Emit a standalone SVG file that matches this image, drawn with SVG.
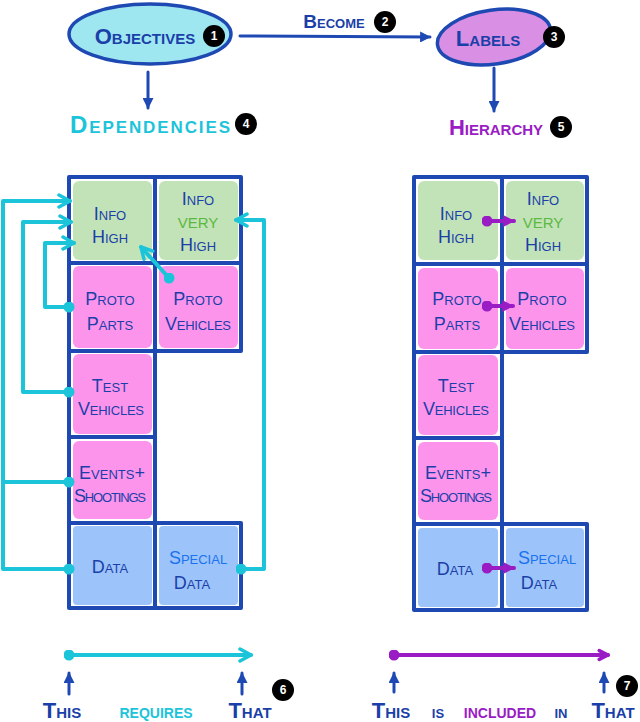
<svg xmlns="http://www.w3.org/2000/svg" width="640" height="722" viewBox="0 0 640 722">
<style>
.t{font-family:"Liberation Sans",Arial,sans-serif;font-variant:small-caps;fill:#1b3fa8;text-anchor:middle;font-weight:bold}
.c{font-size:18px;font-weight:normal}
.v{fill:#5cb83f;font-size:22px}
.g{fill:#c2e3b8}.p{fill:#fd94ec}.b{fill:#9cc4fa}
.bd{fill:none;stroke:#1e49b3;stroke-width:4;stroke-linecap:round;stroke-linejoin:round}
.cy{fill:none;stroke:#1cc4da;stroke-width:4;stroke-linecap:round;stroke-linejoin:round}
.pu{fill:none;stroke:#9a1cc4;stroke-width:4;stroke-linecap:round}
.bl{fill:none;stroke:#1e49b3;stroke-width:3;stroke-linecap:round}
.badge circle{fill:#000}
.badge text{font-family:"Liberation Sans",Arial,sans-serif;font-size:12px;font-weight:bold;fill:#fff;text-anchor:middle}
</style>
<defs>
<marker id="ac" viewBox="0 0 16 16" refX="14" refY="8" markerWidth="16" markerHeight="16" orient="auto" markerUnits="userSpaceOnUse"><path d="M3,2 L14,8 L3,14" fill="none" stroke="#1cc4da" stroke-width="3.5" stroke-linecap="round" stroke-linejoin="round"/></marker>
<marker id="apc" viewBox="0 0 16 16" refX="14" refY="8" markerWidth="14" markerHeight="14" orient="auto" markerUnits="userSpaceOnUse"><path d="M4,3 L14,8 L4,13" fill="none" stroke="#9a1cc4" stroke-width="4" stroke-linecap="round" stroke-linejoin="round"/></marker>
<marker id="ap" viewBox="0 0 10 10" refX="9" refY="5" markerWidth="12" markerHeight="12" orient="auto" markerUnits="userSpaceOnUse"><path d="M0,0 L10,5 L0,10 z" fill="#9a1cc4"/></marker>
<marker id="ab" viewBox="0 0 10 10" refX="9" refY="5" markerWidth="11" markerHeight="11" orient="auto" markerUnits="userSpaceOnUse"><path d="M0,0 L10,5 L0,10 z" fill="#1e49b3"/></marker>
<marker id="dc" viewBox="0 0 10 10" refX="5" refY="5" markerWidth="11" markerHeight="11" markerUnits="userSpaceOnUse"><circle cx="5" cy="5" r="5" fill="#1cc4da"/></marker>
<marker id="dp" viewBox="0 0 10 10" refX="5" refY="5" markerWidth="11" markerHeight="11" markerUnits="userSpaceOnUse"><circle cx="5" cy="5" r="5" fill="#9a1cc4"/></marker>
</defs>
<rect width="640" height="722" fill="#fff"/>

<g id="objectives">
<ellipse cx="150" cy="34" rx="81" ry="30" fill="#9ee6f0" stroke="#1e49b3" stroke-width="3.5"/>
<text class="t" x="145" y="44" font-size="22">Objectives</text>
</g>
<g id="labels">
<ellipse cx="494" cy="37" rx="57" ry="27" fill="#d98fe3" stroke="#1e49b3" stroke-width="3.5" transform="rotate(-8 494 37)"/>
<text class="t" x="488" y="46" font-size="22">Labels</text>
</g>
<g id="dependencies"><text class="t" x="150" y="133" font-size="24" textLength="160" style="fill:#1cc4da">Dependencies</text></g>
<g id="hierarchy"><text class="t" x="496" y="135" font-size="22" style="fill:#9a1cc4">Hierarchy</text></g>

<g id="top-connectors">
<line class="bl" x1="240" y1="36" x2="430" y2="37" marker-end="url(#ab)"/>
<text class="t" x="334" y="28" font-size="19">Become</text>
<line class="bl" x1="148" y1="72" x2="148" y2="108" marker-end="url(#ab)"/>
<line class="bl" x1="494" y1="68" x2="494" y2="111" marker-end="url(#ab)"/>
</g>

<g class="badge">
<circle cx="214" cy="36" r="11"/><text x="214" y="40">1</text>
<circle cx="385" cy="22" r="11"/><text x="385" y="26">2</text>
<circle cx="554" cy="37" r="11"/><text x="554" y="41">3</text>
<circle cx="246" cy="124" r="11"/><text x="246" y="128">4</text>
<circle cx="561" cy="127" r="11"/><text x="561" y="131">5</text>
<circle cx="283" cy="690" r="11"/><text x="283" y="694">6</text>
<circle cx="627" cy="686" r="11"/><text x="627" y="690">7</text>
</g>

<!-- Left grid -->
<g id="L-info-high"><rect class="g" x="73" y="181" width="79" height="79" rx="6"/><text class="t c" x="110" y="220">Info</text><text class="t c" x="110" y="243">High</text></g>
<g id="L-info-very-high"><rect class="g" x="159" y="181" width="79" height="79" rx="6"/><text class="t c" x="198" y="205">Info</text><text class="t c v" x="198" y="228">very</text><text class="t c" x="198" y="251">High</text></g>
<g id="L-proto-parts"><rect class="p" x="73" y="266" width="79" height="82" rx="6"/><text class="t c" x="110" y="305">Proto</text><text class="t c" x="110" y="330">Parts</text></g>
<g id="L-proto-vehicles"><rect class="p" x="159" y="266" width="79" height="82" rx="6"/><text class="t c" x="198" y="305">Proto</text><text class="t c" x="198" y="330" textLength="66">Vehicles</text></g>
<g id="L-test-vehicles"><rect class="p" x="73" y="354" width="79" height="80" rx="6"/><text class="t c" x="110" y="392">Test</text><text class="t c" x="111" y="415" textLength="66">Vehicles</text></g>
<g id="L-events"><rect class="p" x="73" y="441" width="79" height="78" rx="6"/><text class="t c" x="112" y="479">Events+</text><text class="t c" x="110" y="502" textLength="72">Shootings</text></g>
<g id="L-data"><rect class="b" x="73" y="526" width="79" height="79" rx="4"/><text class="t c" x="110" y="573">Data</text></g>
<g id="L-special-data"><rect class="b" x="159" y="526" width="79" height="79" rx="4"/><text class="t c" x="198" y="564" style="fill:#1a72f0">Special</text><text class="t c" x="192" y="589">Data</text></g>
<path class="bd" d="M69,177 H241 V263 M155,177 V608 M69,177 V608 H241 V523 H69 M69,263 H241 V351 H69 M69,437 H155 M155,523 H241"/>

<!-- Right grid -->
<g id="R-info-high"><rect class="g" x="418" y="181" width="80" height="79" rx="6"/><text class="t c" x="456" y="220">Info</text><text class="t c" x="456" y="243">High</text></g>
<g id="R-info-very-high"><rect class="g" x="506" y="181" width="78" height="79" rx="6"/><text class="t c" x="543" y="205">Info</text><text class="t c v" x="543" y="228">very</text><text class="t c" x="543" y="251">High</text></g>
<g id="R-proto-parts"><rect class="p" x="418" y="268" width="80" height="81" rx="6"/><text class="t c" x="457" y="305">Proto</text><text class="t c" x="457" y="330">Parts</text></g>
<g id="R-proto-vehicles"><rect class="p" x="506" y="268" width="78" height="81" rx="6"/><text class="t c" x="542" y="305">Proto</text><text class="t c" x="542" y="330" textLength="66">Vehicles</text></g>
<g id="R-test-vehicles"><rect class="p" x="418" y="355" width="80" height="80" rx="6"/><text class="t c" x="456" y="392">Test</text><text class="t c" x="456" y="415" textLength="66">Vehicles</text></g>
<g id="R-events"><rect class="p" x="418" y="442" width="80" height="78" rx="6"/><text class="t c" x="458" y="479">Events+</text><text class="t c" x="456" y="502" textLength="72">Shootings</text></g>
<g id="R-data"><rect class="b" x="418" y="528" width="80" height="79" rx="4"/><text class="t c" x="455" y="575">Data</text></g>
<g id="R-special-data"><rect class="b" x="506" y="528" width="78" height="79" rx="4"/><text class="t c" x="547" y="564" style="fill:#1a72f0">Special</text><text class="t c" x="539" y="589">Data</text></g>
<path class="bd" d="M414,177 H587 V264 M502,177 V610 M414,177 V610 H587 V524 H414 M414,264 H587 V352 H414 M414,438 H502 M502,524 H587"/>

<g id="connectors">
<path class="cy" d="M69,569 H3 V201 H70" marker-start="url(#dc)" marker-end="url(#ac)"/>
<path class="cy" d="M69,482 H3" marker-start="url(#dc)"/>
<path class="cy" d="M69,392 H23 V222 H71" marker-start="url(#dc)" marker-end="url(#ac)"/>
<path class="cy" d="M69,307 H45 V243 H74" marker-start="url(#dc)" marker-end="url(#ac)"/>
<path class="cy" d="M169,278 L141,247" marker-start="url(#dc)" marker-end="url(#ac)"/>
<path class="cy" d="M241,569 H264 V220 H236" marker-start="url(#dc)" marker-end="url(#ac)"/>
<path class="pu" d="M487,221 H514" marker-start="url(#dp)" marker-end="url(#ap)"/>
<path class="pu" d="M487,306 H513" marker-start="url(#dp)" marker-end="url(#ap)"/>
<path class="pu" d="M487,568 H514" marker-start="url(#dp)" marker-end="url(#ap)"/>
</g>

<g id="legend-left">
<path class="cy" d="M69,655 H251" marker-start="url(#dc)" marker-end="url(#ac)"/>
<line class="bl" x1="69" y1="694" x2="69" y2="673" marker-end="url(#ab)"/>
<line class="bl" x1="242" y1="694" x2="242" y2="673" marker-end="url(#ab)"/>
<text class="t" x="62" y="718" font-size="22">This</text>
<text class="t" x="156" y="718" font-size="20" style="fill:#1cc4da">requires</text>
<text class="t" x="250" y="718" font-size="22">That</text>
</g>
<g id="legend-right">
<path class="pu" d="M394,655 H608" marker-start="url(#dp)" marker-end="url(#apc)"/>
<line class="bl" x1="394" y1="692" x2="394" y2="673" marker-end="url(#ab)"/>
<line class="bl" x1="604" y1="692" x2="604" y2="673" marker-end="url(#ab)"/>
<text class="t" x="391" y="718" font-size="22">This</text>
<text class="t" x="438" y="718" font-size="18">is</text>
<text class="t" x="500" y="718" font-size="20" style="fill:#9a1cc4">included</text>
<text class="t" x="561" y="718" font-size="18">in</text>
<text class="t" x="613" y="718" font-size="22">That</text>
</g>
</svg>
